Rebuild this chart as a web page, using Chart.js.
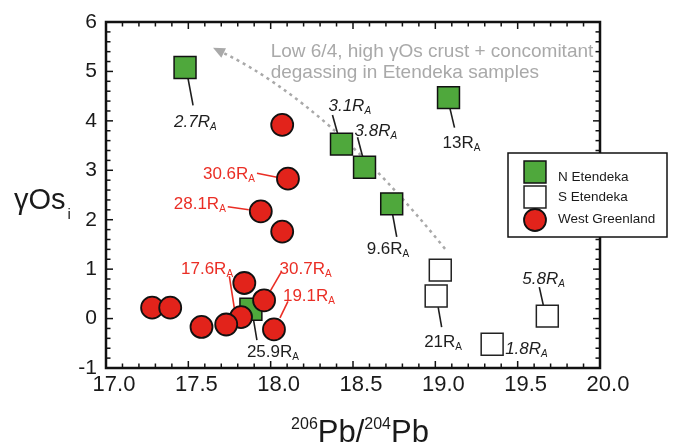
<!DOCTYPE html>
<html>
<head>
<meta charset="utf-8">
<script src="https://cdn.jsdelivr.net/npm/chart.js@4.4.1/dist/chart.umd.min.js"></script>
<style>
  html, body { margin: 0; padding: 0; background: #fff; }
  #wrap { width: 676px; height: 447px; }
</style>
</head>
<body>
<div id="wrap"><canvas id="grafico"></canvas></div>
<script>
// Datos (206Pb/204Pb vs gamma Os)
const nEtendekaX = [17.48, 18.43, 18.57, 19.08, 18.735, 17.88];
const nEtendekaY = [5.08, 3.53, 3.06, 4.47, 2.32, 0.19];
const sEtendekaX = [19.03, 19.005, 19.345, 19.68];
const sEtendekaY = [0.98, 0.455, -0.52, 0.05];
const groenlandiaX = [18.07, 18.105, 17.94, 18.07, 17.84, 17.96, 17.82, 17.73, 17.58, 18.02, 17.28, 17.39];
const groenlandiaY = [3.92, 2.83, 2.17, 1.76, 0.72, 0.37, 0.03, -0.12, -0.17, -0.22, 0.22, 0.22];
const nombresSeries = ['N Etendeka', 'S Etendeka', 'West Greenland'];

// Etiquetas de los ejes (las demás marcas van sin texto)
const xEtiquetas = [17.0, 17.5, 18.0, 18.5, 19.0, 19.5, 20.0];
const yEtiquetas = [-1, 0, 1, 2, 3, 4, 5, 6];

// Valores R/Ra junto a los puntos
const valoresRa = [
  { serie: 0, i: 0, texto: '2.7', cursiva: true },
  { serie: 0, i: 1, texto: '3.1', cursiva: true },
  { serie: 0, i: 2, texto: '3.8', cursiva: true },
  { serie: 0, i: 3, texto: '13', cursiva: false },
  { serie: 0, i: 4, texto: '9.6', cursiva: false },
  { serie: 0, i: 5, texto: '25.9', cursiva: false },
  { serie: 1, i: 1, texto: '21', cursiva: false },
  { serie: 1, i: 2, texto: '1.8', cursiva: true },
  { serie: 1, i: 3, texto: '5.8', cursiva: true },
  { serie: 2, i: 1, texto: '30.6', cursiva: false },
  { serie: 2, i: 2, texto: '28.1', cursiva: false },
  { serie: 2, i: 6, texto: '17.6', cursiva: false },
  { serie: 2, i: 5, texto: '30.7', cursiva: false },
  { serie: 2, i: 9, texto: '19.1', cursiva: false }
];

// Desplazamientos (px) de cada etiqueta y su línea respecto del punto
const posEtiquetas = [
  { dx: -11, dy: 60, linea: [3, 11, 8, 38] },
  { dx: -13, dy: -33, linea: [-9, -29, -4, -11] },
  { dx: -10, dy: -31, linea: [-7, -30, -2, -11] },
  { dx: -6, dy: 50, linea: [1.5, 11, 6, 30] },
  { dx: -25, dy: 50, linea: [1, 11, 5, 33] },
  { dx: -4, dy: 48, linea: [2, 7, 6, 31] },
  { dx: -12, dy: 51, linea: [2, 11, 5.5, 31] },
  { dx: 13, dy: 10, linea: null },
  { dx: -25, dy: -32, linea: [-8, -29, -4, -11] },
  { dx: -85, dy: 0.5, linea: [-31, -5.5, -11, -1.5] },
  { dx: -87, dy: -2.5, linea: [-33, -4.5, -12, -1.5] },
  { dx: -60, dy: -43, linea: [-11.7, -41, -6.7, -9] },
  { dx: 15.5, dy: -26.5, linea: [17, -28, 6, -9] },
  { dx: 9, dy: -28.5, linea: [14, -28, 6, -11.5] }
];

// Flecha punteada (inicio, control, punta) y texto de la tendencia
const flecha = [[19.059, 1.41], [18.354, 4.32], [17.65, 5.48]];
const textoTendencia = ['Low 6/4, high \u03b3Os crust + concomitant', 'degassing in Etendeka samples'];
const anclaTendencia = [18.0, 5.30];

const FUENTE = '"Liberation Sans", Arial, sans-serif';
const ROJO = '#ea2e25';

function aPuntos(xs, ys) {
  return xs.map((x, i) => ({ x: x, y: ys[i] }));
}

function esEtiqueta(v, lista) {
  return lista.some(e => Math.abs(e - v) < 1e-6);
}

function linea(ctx, x1, y1, x2, y2) {
  ctx.beginPath();
  ctx.moveTo(x1, y1);
  ctx.lineTo(x2, y2);
  ctx.stroke();
}

// Etiquetas, líneas guía, flecha y texto gris (debajo de los puntos)
const anotaciones = {
  id: 'anotaciones',
  beforeDatasetsDraw(chart) {
    const { ctx, scales: { x, y } } = chart;
    ctx.save();

    // flecha punteada curva
    const p = flecha.map(q => [x.getPixelForValue(q[0]), y.getPixelForValue(q[1])]);
    ctx.strokeStyle = '#a9a9a9';
    ctx.lineWidth = 2.5;
    ctx.setLineDash([3, 4]);
    ctx.beginPath();
    ctx.moveTo(p[0][0], p[0][1]);
    const fin = [p[2][0] + (p[1][0] - p[2][0]) * 0.09, p[2][1] + (p[1][1] - p[2][1]) * 0.09];
    ctx.quadraticCurveTo(p[1][0], p[1][1], fin[0], fin[1]);
    ctx.stroke();
    ctx.setLineDash([]);
    const ang = Math.atan2(p[2][1] - p[1][1], p[2][0] - p[1][0]);
    ctx.fillStyle = '#a9a9a9';
    ctx.beginPath();
    ctx.moveTo(p[2][0], p[2][1]);
    ctx.lineTo(p[2][0] - 13 * Math.cos(ang - 0.42), p[2][1] - 13 * Math.sin(ang - 0.42));
    ctx.lineTo(p[2][0] - 13 * Math.cos(ang + 0.42), p[2][1] - 13 * Math.sin(ang + 0.42));
    ctx.closePath();
    ctx.fill();

    ctx.font = '19px ' + FUENTE;
    ctx.textBaseline = 'alphabetic';
    ctx.textAlign = 'left';
    const tx = x.getPixelForValue(anclaTendencia[0]);
    const ty = y.getPixelForValue(anclaTendencia[1]);
    textoTendencia.forEach((t, k) => ctx.fillText(t, tx, ty + k * 21));

    // valores R/Ra
    valoresRa.forEach((e, k) => {
      const pos = posEtiquetas[k];
      const el = chart.getDatasetMeta(e.serie).data[e.i];
      const color = e.serie === 2 ? ROJO : '#1e1e1e';
      if (pos.linea) {
        ctx.strokeStyle = color;
        ctx.lineWidth = 1.6;
        linea(ctx, el.x + pos.linea[0], el.y + pos.linea[1], el.x + pos.linea[2], el.y + pos.linea[3]);
      }
      const estilo = e.cursiva ? 'italic ' : '';
      ctx.fillStyle = color;
      ctx.font = estilo + '17px ' + FUENTE;
      const bx = el.x + pos.dx, by = el.y + pos.dy;
      ctx.fillText(e.texto + 'R', bx, by);
      const w = ctx.measureText(e.texto + 'R').width;
      ctx.font = estilo + '10px ' + FUENTE;
      ctx.fillText('A', bx + w, by + 3);
    });
    ctx.restore();
  }
};

// Marco con marcas hacia dentro, títulos de ejes y leyenda
const marco = {
  id: 'marco',
  afterDatasetsDraw(chart) {
    const { ctx, chartArea: a, scales: { x, y } } = chart;
    ctx.save();
    ctx.strokeStyle = '#111';
    ctx.lineWidth = 1.5;
    x.ticks.forEach(t => {
      const px = x.getPixelForValue(t.value);
      const l = esEtiqueta(t.value, xEtiquetas) ? 7 : 4.5;
      linea(ctx, px, a.bottom, px, a.bottom - l);
      linea(ctx, px, a.top, px, a.top + l);
    });
    y.ticks.forEach(t => {
      const py = y.getPixelForValue(t.value);
      const l = esEtiqueta(t.value, yEtiquetas) ? 7 : 4.5;
      linea(ctx, a.left, py, a.left + l, py);
      linea(ctx, a.right, py, a.right - l, py);
    });
    ctx.lineWidth = 2.5;
    ctx.strokeRect(a.left, a.top, a.right - a.left, a.bottom - a.top);
    ctx.restore();
  },
  afterDraw(chart) {
    const { ctx, chartArea: a } = chart;
    ctx.save();
    ctx.fillStyle = '#1a1a1a';
    ctx.textBaseline = 'alphabetic';

    // título eje X: 206Pb/204Pb
    const partes = [['206', true], ['Pb/', false], ['204', true], ['Pb', false]];
    const anchos = partes.map(p => {
      ctx.font = (p[1] ? '16px ' : '31px ') + FUENTE;
      return ctx.measureText(p[0]).width;
    });
    let cx = (a.left + a.right) / 2 + 7 - anchos.reduce((s, v) => s + v, 0) / 2;
    const base = a.bottom + 74;
    partes.forEach((p, k) => {
      ctx.font = (p[1] ? '16px ' : '31px ') + FUENTE;
      ctx.fillText(p[0], cx, p[1] ? base - 13 : base);
      cx += anchos[k];
    });

    // título eje Y: γOs_i
    ctx.font = '29px ' + FUENTE;
    const yb = (a.top + a.bottom) / 2 + 14;
    ctx.fillText('\u03b3Os', 14, yb);
    const wy = ctx.measureText('\u03b3Os').width;
    ctx.font = '15px ' + FUENTE;
    ctx.fillText('i', 14 + wy + 2, yb + 10);

    // leyenda
    const caja = { l: a.right - 92, t: a.top + 131, w: 159, h: 84 };
    ctx.fillStyle = '#fff';
    ctx.fillRect(caja.l, caja.t, caja.w, caja.h);
    ctx.strokeStyle = '#111';
    ctx.lineWidth = 1.5;
    ctx.strokeRect(caja.l, caja.t, caja.w, caja.h);
    const filasMarca = [19, 44, 67];
    const filasTexto = [24, 44, 66];
    chart.data.datasets.forEach((ds, k) => {
      ctx.fillStyle = ds.backgroundColor;
      ctx.strokeStyle = ds.borderColor;
      ctx.lineWidth = ds.borderWidth;
      Chart.helpers.drawPoint(ctx, {
        pointStyle: ds.pointStyle, radius: ds.pointRadius, rotation: 0, borderWidth: ds.borderWidth
      }, caja.l + 27, caja.t + filasMarca[k]);
      ctx.fillStyle = '#1a1a1a';
      ctx.font = '13.5px ' + FUENTE;
      ctx.textBaseline = 'middle';
      ctx.fillText(ds.label, caja.l + 50, caja.t + filasTexto[k]);
    });
    ctx.restore();
  }
};

const ctx = document.getElementById('grafico').getContext('2d');
const chart = new Chart(ctx, {
  type: 'scatter',
  data: {
    datasets: [{
      label: nombresSeries[0],
      data: aPuntos(nEtendekaX, nEtendekaY),
      pointStyle: 'rect',
      pointRadius: 15.5,
      backgroundColor: '#4fa83c',
      borderColor: '#111',
      borderWidth: 1.5,
      order: 2
    }, {
      label: nombresSeries[1],
      data: aPuntos(sEtendekaX, sEtendekaY),
      pointStyle: 'rect',
      pointRadius: 15.5,
      backgroundColor: '#ffffff',
      borderColor: '#222',
      borderWidth: 1.5,
      order: 1
    }, {
      label: nombresSeries[2],
      data: aPuntos(groenlandiaX, groenlandiaY),
      pointStyle: 'circle',
      pointRadius: 11,
      backgroundColor: '#e2231b',
      borderColor: '#111',
      borderWidth: 1.8,
      order: 0
    }]
  },
  options: {
    responsive: true,
    maintainAspectRatio: false,
    animation: false,
    events: [],
    layout: { padding: { top: 22, right: 76, left: 0, bottom: 0 } },
    plugins: { legend: { display: false }, tooltip: { enabled: false } },
    scales: {
      x: {
        type: 'linear',
        min: 17, max: 20,
        afterFit: s => { s.height = 79; },
        grid: { display: false, drawTicks: false },
        border: { display: false },
        ticks: {
          stepSize: 0.1,
          autoSkip: false,
          maxRotation: 0,
          padding: 4,
          labelOffset: 8,
          color: '#1a1a1a',
          font: { family: FUENTE, size: 22 },
          callback: v => esEtiqueta(v, xEtiquetas) ? v.toFixed(1) : ''
        }
      },
      y: {
        type: 'linear',
        min: -1, max: 6,
        afterFit: s => { s.width = 106; },
        grid: { display: false, drawTicks: false },
        border: { display: false },
        ticks: {
          stepSize: 0.2,
          autoSkip: false,
          padding: 9,
          color: '#1a1a1a',
          font: { family: FUENTE, size: 21 },
          callback: v => esEtiqueta(v, yEtiquetas) ? String(Math.round(v)) : ''
        }
      }
    }
  },
  plugins: [anotaciones, marco]
});
</script>
</body>
</html>
